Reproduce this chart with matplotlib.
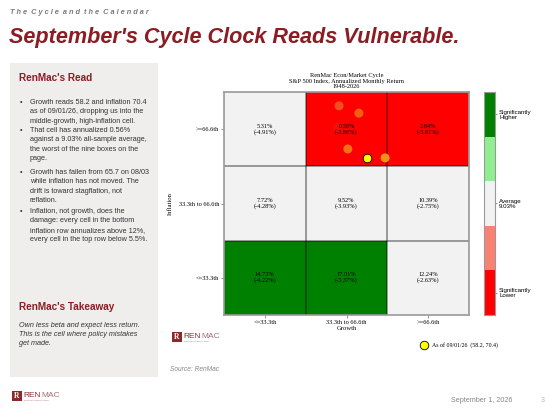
import numpy as np
import matplotlib
matplotlib.use("Agg")
import matplotlib.pyplot as plt
from matplotlib.colors import ListedColormap, BoundaryNorm
from matplotlib.patches import Rectangle

# Data
growth_labels = ["<=33.3th", "33.3th to 66.6th", ">=66.6th"]
inflation_labels = ["<=33.3th", "33.3th to 66.6th", ">=66.6th"]
# rows: inflation low -> high, cols: growth low -> high
returns = [[14.73, 17.01, 12.24],
           [7.72, 9.52, 10.39],
           [5.31, 0.56, 2.84]]
drawdowns = [[-4.22, -3.37, -2.63],
             [-4.28, -3.93, -2.75],
             [-4.91, -3.86, -3.91]]
# significance class: -2 sig lower, -1 lower, 0 average, 1 higher, 2 sig higher
signif = [[2, 2, 0],
          [0, 0, 0],
          [0, -2, -2]]
avg_return = 9.03

# trail of recent readings (growth pct, inflation pct), oldest first
trail_growth = [45.9, 46.9, 55.0, 50.5, 65.7]
trail_infl = [84.4, 93.8, 90.5, 74.4, 70.4]
trail_colors = ["#e2281c", "#ee5a22", "#f06a14", "#f07c18", "#f0a41e"]
current = (58.2, 70.4)

sig_colors = ["#ff0000", "#fa8072", "#f2f2f2", "#90ee90", "#008000"]

W, H = 545, 411
DARK_RED = "#8c1c24"


def fx(x):
    return x / W


def fy(y):
    return 1 - y / H


def pct_to_cell(p):
    # map a percentile onto the tertile grid (0-3)
    if p < 33.3:
        return p / 33.3
    if p < 66.6:
        return 1 + (p - 33.3) / 33.3
    return 2 + (p - 66.6) / 33.4


fig = plt.figure(figsize=(W / 100, H / 100), dpi=100)
fig.patch.set_facecolor("white")

# header
fig.text(fx(10), fy(12), "T h e  C y c l e  a n d  t h e  C a l e n d a r", fontsize=5.3,
         color="#7a7a7a", fontweight="bold", style="italic", family="Liberation Sans", va="center")
fig.text(fx(9), fy(38), "September's Cycle Clock Reads Vulnerable.", fontsize=15.6,
         color=DARK_RED, fontweight="bold", style="italic", family="Liberation Sans", va="center")

# left panel
fig.patches.append(Rectangle((fx(10), fy(377)), 148 / W, 314 / H, transform=fig.transFigure,
                             facecolor="#f0eeed", edgecolor="none", zorder=0))
fig.text(fx(19), fy(78), "RenMac's Read", fontsize=7.2, color=DARK_RED, fontweight="bold",
         family="Liberation Sans", va="center")
bullets = [
    (103, "Growth reads 58.2 and inflation 70.4\nas of 09/01/26, dropping us into the\nmiddle-growth, high-inflation cell."),
    (131, "That cell has annualized 0.56%\nagainst a 9.03% all-sample average,\nthe worst of the nine boxes on the\npage."),
    (173, "Growth has fallen from 65.7 on 08/03\nwhile inflation has not moved. The\ndrift is toward stagflation, not\nreflation."),
    (212, "Inflation, not growth, does the\ndamage: every cell in the bottom\ninflation row annualizes above 12%,\nevery cell in the top row below 5.5%."),
]
for yb, txt in bullets:
    fig.text(fx(20), fy(yb - 3.8), "\u2022", fontsize=5.2, color="#333333",
             family="Liberation Sans", va="top")
    fig.text(fx(30), fy(yb - 3.8), txt, fontsize=5.2, color="#333333",
             family="Liberation Sans", va="top", linespacing=1.45)

fig.text(fx(19), fy(307), "RenMac's Takeaway", fontsize=7.2, color=DARK_RED, fontweight="bold",
         family="Liberation Sans", va="center")
fig.text(fx(19), fy(322), "Own less beta and expect less return.\nThis is the cell where policy mistakes\nget made.",
         fontsize=5.2, color="#333333", style="italic", family="Liberation Sans", va="top",
         linespacing=1.4)

# heatmap
ax = fig.add_axes([fx(224), fy(315), 245 / W, 223 / H])
cmap = ListedColormap(sig_colors)
norm = BoundaryNorm([-2.5, -1.5, -0.5, 0.5, 1.5, 2.5], cmap.N)
ax.pcolormesh(np.arange(4), np.arange(4), np.array(signif), cmap=cmap, norm=norm)
for v in [1, 2]:
    ax.axvline(v, color="black", alpha=0.4, lw=1.3)
    ax.axhline(v, color="black", alpha=0.4, lw=1.3)
for sp in ax.spines.values():
    sp.set_color("#999999")
    sp.set_linewidth(1.2)
for i in range(3):
    for j in range(3):
        ax.text(j + 0.5, i + 0.5, f"{returns[i][j]:.2f}%\n({drawdowns[i][j]:.2f}%)",
                ha="center", va="center", fontsize=4.6, family="Liberation Serif",
                color="black", linespacing=1.1, zorder=5)

tx = [pct_to_cell(g) for g in trail_growth]
ty = [pct_to_cell(p) for p in trail_infl]
ax.scatter(tx[:1], ty[:1], s=42, c=trail_colors[:1], alpha=0.35, zorder=3, linewidths=0)
ax.scatter(tx[1:], ty[1:], s=42, c=trail_colors[1:], alpha=0.9, zorder=3, linewidths=0)
ax.scatter([pct_to_cell(current[0])], [pct_to_cell(current[1])], s=38, c="yellow",
           edgecolors="black", linewidths=0.6, zorder=4,
           label=f"As of 09/01/26  ({current[0]}, {current[1]})")

ax.set_xlim(0, 3)
ax.set_ylim(0, 3)
ax.set_xticks([0.5, 1.5, 2.5])
ax.set_xticklabels(growth_labels)
ax.set_yticks([0.5, 1.5, 2.5])
ax.set_yticklabels(inflation_labels)
ax.tick_params(labelsize=4.6, length=2, width=0.5, color="#666666", pad=1.5)
for lab in ax.get_xticklabels() + ax.get_yticklabels():
    lab.set_family("Liberation Serif")
ax.set_xlabel("Growth", fontsize=4.8, family="Liberation Serif", labelpad=1)
ax.set_ylabel("Inflation", fontsize=4.8, family="Liberation Serif", labelpad=4)
ax.set_title("RenMac Econ/Market Cycle\nS&P 500 Index, Annualized Monthly Return\n1948-2026",
             fontsize=4.6, family="Liberation Serif", linespacing=1.05, pad=3)
ax.legend(loc="center left", bbox_to_anchor=(0.78, -0.135), frameon=False,
          prop={"family": "Liberation Serif", "size": 4.2}, handletextpad=0.4, borderpad=0)

# colorbar
cax = fig.add_axes([fx(484), fy(315), 11 / W, 223 / H])
cax.pcolormesh([0, 1], np.arange(6), np.arange(-2, 3).reshape(5, 1), cmap=cmap, norm=norm)
cax.set_xlim(0, 1)
cax.set_ylim(0, 5)
cax.set_xticks([])
cax.yaxis.tick_right()
cax.set_yticks([0.5, 2.5, 4.5])
cax.set_yticklabels(["Significantly\nLower", f"Average\n{avg_return:.2f}%", "Significantly\nHigher"])
cax.tick_params(labelsize=4.4, length=1.5, width=0.5, color="#666666", pad=1.5)
for lab in cax.get_yticklabels():
    lab.set_family("Liberation Sans")
    lab.set_linespacing(1.0)
    lab.set_horizontalalignment("left")
for sp in cax.spines.values():
    sp.set_color("#999999")
    sp.set_linewidth(0.8)


# logos and footer
def logo(x, y, size):
    fig.patches.append(Rectangle((fx(x), fy(y + size)), size / W, size / H,
                                 transform=fig.transFigure, facecolor="#8c2a2a",
                                 edgecolor="none"))
    fig.text(fx(x + size / 2), fy(y + size / 2), "R", fontsize=size * 0.55, color="white",
             ha="center", va="center", fontweight="bold", family="Liberation Serif")
    fig.text(fx(x + size + 1.5), fy(y + size * 0.4), "REN", fontsize=size * 0.6,
             color="#8c2a2a", va="center", family="Liberation Sans")
    fig.text(fx(x + size + 1.5 + size * 1.8), fy(y + size * 0.4), "MAC", fontsize=size * 0.6,
             color="#a07070", va="center", family="Liberation Sans")
    fig.text(fx(x + size + 1.5), fy(y + size * 0.95), "RENAISSANCE MACRO", fontsize=size * 0.16,
             color="#a07070", va="center", family="Liberation Sans")


logo(172, 332, 10)
logo(12, 391, 10)
fig.text(fx(170), fy(369), "Source: RenMac", fontsize=4.8, color="#888888", style="italic",
         family="Liberation Sans", va="center")
fig.text(fx(451), fy(400), "September 1, 2026", fontsize=5.2, color="#888888",
         family="Liberation Sans", va="center")
fig.text(fx(541), fy(400), "3", fontsize=5.2, color="#bbbbbb", family="Liberation Sans", va="center")

fig.savefig("out.png", dpi=100)
